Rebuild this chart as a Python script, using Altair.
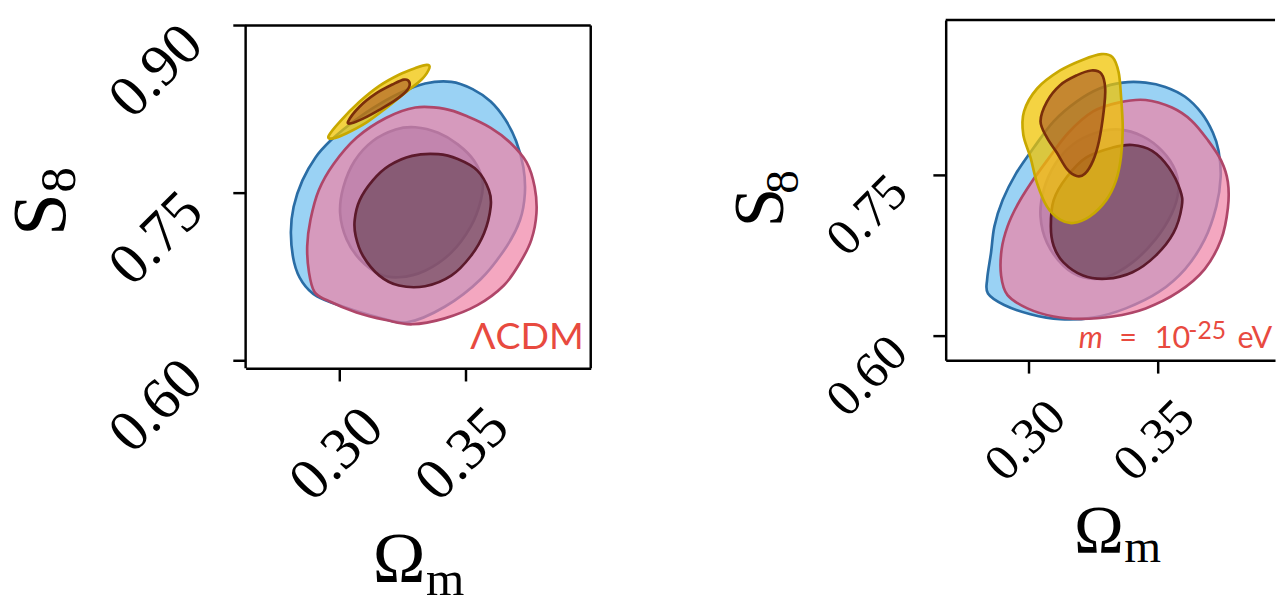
import altair as alt
import pandas as pd

# ---------------- axes ----------------
X_TICKS = [0.30, 0.35]
L_Y_TICKS = [0.60, 0.75, 0.90]
R_Y_TICKS = [0.60, 0.75]
L_XDOM = [0.2627, 0.40]
L_YDOM = [0.593, 0.9048]
R_XDOM = [0.2677, 0.3955]
R_YDOM = [0.5767, 0.894]

# ---------------- left panel: LCDM contours (Omega_m, S8) ----------------
L_BLUE95_OM = [0.2807, 0.2818, 0.2853, 0.2905, 0.2963, 0.3041, 0.3133, 0.3237, 0.3341, 0.3445, 0.3530, 0.3602, 0.3660,
               0.3703, 0.3732, 0.3738, 0.3719, 0.3666, 0.3563, 0.3419, 0.3270, 0.3146, 0.3016, 0.2911, 0.2853, 0.2820]
L_BLUE95_S8 = [0.7141, 0.7376, 0.7612, 0.7818, 0.7965, 0.8113, 0.8259, 0.8391, 0.8480, 0.8495, 0.8430, 0.8318, 0.8157,
               0.7965, 0.7729, 0.7495, 0.7259, 0.7023, 0.6729, 0.6480, 0.6341, 0.6391, 0.6480, 0.6573, 0.6700, 0.6877]
L_BLUE68_OM = [0.3003, 0.3016, 0.3061, 0.3133, 0.3224, 0.3302, 0.3393, 0.3471, 0.3536, 0.3569, 0.3563, 0.3523, 0.3445,
               0.3341, 0.3237, 0.3159, 0.3081, 0.3029]
L_BLUE68_S8 = [0.7318, 0.7553, 0.7788, 0.7965, 0.8068, 0.8088, 0.8038, 0.7935, 0.7788, 0.7612, 0.7435, 0.7200, 0.6965,
               0.6803, 0.6744, 0.6773, 0.6906, 0.7082]
L_PINK95_OM = [0.3185, 0.3302, 0.3419, 0.3510, 0.3602, 0.3680, 0.3745, 0.3777, 0.3784, 0.3764, 0.3719, 0.3654, 0.3549,
               0.3419, 0.3289, 0.3185, 0.3068, 0.2951, 0.2901, 0.2879, 0.2872, 0.2885, 0.2918, 0.2977, 0.3068]
L_PINK95_S8 = [0.8171, 0.8265, 0.8253, 0.8185, 0.8083, 0.7950, 0.7774, 0.7553, 0.7318, 0.7082, 0.6876, 0.6670, 0.6494,
               0.6376, 0.6323, 0.6361, 0.6429, 0.6538, 0.6612, 0.6788, 0.7023, 0.7259, 0.7524, 0.7759, 0.7994]
L_PINK68_OM = [0.3061, 0.3081, 0.3133, 0.3198, 0.3289, 0.3393, 0.3471, 0.3549, 0.3595, 0.3602, 0.3576, 0.3523, 0.3445,
               0.3341, 0.3237, 0.3159, 0.3094, 0.3065]
L_PINK68_S8 = [0.7259, 0.7435, 0.7612, 0.7744, 0.7832, 0.7847, 0.7803, 0.7700, 0.7524, 0.7376, 0.7141, 0.6935, 0.6759,
               0.6664, 0.6670, 0.6759, 0.6935, 0.7112]
L_YEL95_OM = [0.2957, 0.3003, 0.3081, 0.3159, 0.3237, 0.3302, 0.3348, 0.3358, 0.3328, 0.3263, 0.3185, 0.3107, 0.3029, 0.2974]
L_YEL95_S8 = [0.8009, 0.8141, 0.8318, 0.8459, 0.8559, 0.8618, 0.8647, 0.8618, 0.8518, 0.8400, 0.8259, 0.8130, 0.8035, 0.7988]
L_YEL68_OM = [0.3035, 0.3081, 0.3146, 0.3211, 0.3257, 0.3279, 0.3270, 0.3224, 0.3159, 0.3094, 0.3048]
L_YEL68_S8 = [0.8141, 0.8274, 0.8391, 0.8471, 0.8515, 0.8489, 0.8421, 0.8333, 0.8244, 0.8165, 0.8124]

# ---------------- right panel: m = 1e-25 eV ----------------
R_BLUE95_OM = [0.2853, 0.2866, 0.2898, 0.2949, 0.3019, 0.3096, 0.3185, 0.3274, 0.3364, 0.3453, 0.3529, 0.3606, 0.3670,
               0.3714, 0.3736, 0.3744, 0.3727, 0.3682, 0.3606, 0.3504, 0.3376, 0.3249, 0.3121, 0.3006, 0.2904, 0.2841, 0.2838]
R_BLUE95_S8 = [0.6772, 0.7016, 0.7261, 0.7506, 0.7751, 0.7996, 0.8180, 0.8302, 0.8357, 0.8357, 0.8317, 0.8225, 0.8072,
               0.7889, 0.7720, 0.7476, 0.7200, 0.6894, 0.6618, 0.6404, 0.6251, 0.6165, 0.6150, 0.6196, 0.6282, 0.6389, 0.6527]
R_BLUE68_OM = [0.3045, 0.3057, 0.3102, 0.3172, 0.3261, 0.3351, 0.3440, 0.3517, 0.3568, 0.3580, 0.3555, 0.3491, 0.3402,
               0.3300, 0.3210, 0.3134, 0.3070]
R_BLUE68_S8 = [0.7108, 0.7353, 0.7598, 0.7782, 0.7889, 0.7919, 0.7858, 0.7720, 0.7537, 0.7353, 0.7139, 0.6894, 0.6680,
               0.6542, 0.6542, 0.6649, 0.6863]
R_PINK95_OM = [0.3249, 0.3351, 0.3453, 0.3555, 0.3631, 0.3695, 0.3746, 0.3772, 0.3772, 0.3746, 0.3682, 0.3580, 0.3453,
               0.3325, 0.3198, 0.3096, 0.2994, 0.2917, 0.2892, 0.2894, 0.2917, 0.2955, 0.3006, 0.3070, 0.3153]
R_PINK95_S8 = [0.8088, 0.8173, 0.8195, 0.8124, 0.8002, 0.7818, 0.7629, 0.7430, 0.7185, 0.6894, 0.6618, 0.6404, 0.6251,
               0.6175, 0.6153, 0.6175, 0.6251, 0.6374, 0.6557, 0.6802, 0.7016, 0.7215, 0.7414, 0.7629, 0.7889]
R_PINK68_OM = [0.3085, 0.3096, 0.3147, 0.3223, 0.3325, 0.3402, 0.3478, 0.3542, 0.3587, 0.3593, 0.3561, 0.3491, 0.3402,
               0.3300, 0.3210, 0.3134, 0.3096]
R_PINK68_S8 = [0.7016, 0.7261, 0.7476, 0.7659, 0.7751, 0.7775, 0.7720, 0.7567, 0.7353, 0.7200, 0.6955, 0.6741, 0.6588,
               0.6527, 0.6557, 0.6680, 0.6833]
R_YEL95_OM = [0.2981, 0.3032, 0.3121, 0.3210, 0.3281, 0.3325, 0.3348, 0.3357, 0.3364, 0.3357, 0.3338, 0.3300, 0.3236,
              0.3172, 0.3121, 0.3070, 0.3032, 0.3006, 0.2978]
R_YEL95_S8 = [0.8088, 0.8302, 0.8470, 0.8571, 0.8623, 0.8593, 0.8455, 0.8241, 0.7935, 0.7659, 0.7445, 0.7261, 0.7108,
              0.7047, 0.7078, 0.7200, 0.7414, 0.7659, 0.7873]
R_YEL68_OM = [0.3045, 0.3070, 0.3121, 0.3185, 0.3242, 0.3281, 0.3296, 0.3290, 0.3272, 0.3249, 0.3217, 0.3185, 0.3147,
              0.3108, 0.3070]
R_YEL68_S8 = [0.7996, 0.8180, 0.8333, 0.8424, 0.8470, 0.8440, 0.8302, 0.8088, 0.7812, 0.7629, 0.7506, 0.7485, 0.7552,
              0.7705, 0.7843]

# ---------------- styles ----------------
SERIF = "Liberation Serif"
SANS = "Lato, Open Sans, DejaVu Sans"
RED = "#e84a3f"
STYLES = {
    "blue95": dict(fill="#78c3f0", fillOpacity=0.75, stroke="#2a6da5"),
    "blue68": dict(fill="#285aa0", fillOpacity=0.58, stroke="#2a5a90"),
    "pink95": dict(fill="#f082a5", fillOpacity=0.70, stroke="#af4669"),
    "pink68": dict(fill="#5f3c4b", fillOpacity=0.58, stroke="#5c1a2c"),
    "yel95": dict(fill="#f0c400", fillOpacity=0.74, stroke="#c8a800"),
    "yel68": dict(fill="#963c1e", fillOpacity=0.50, stroke="#7a2e0a"),
}
FRAME = dict(color="black", strokeWidth=2.5)

LW, LH = 350, 353      # left plot (frame top sits 5.4 px below the plot top)
L_TOP = 5.4
RW, RH = 334, 345      # right plot (cut by the page edge)


def axis(vals, size, pad, off, domain):
    return alt.Axis(values=vals, format=".2f", title=None, grid=False,
                    labelAngle=-45, labelAlign="center", labelBaseline="middle",
                    labelPadding=pad, labelOffset=off, labelFont=SERIF, labelFontSize=size,
                    labelColor="black", labelFlush=False, labelOverlap=False, labelBound=False,
                    tickSize=13, tickWidth=2.5, tickColor="black",
                    domain=domain, domainColor="black", domainWidth=2.5)


def contour(om, s8, style, xs, ys, xa, ya):
    df = pd.DataFrame({"om": om, "s8": s8, "i": list(range(len(om)))})
    st = STYLES[style]
    return alt.Chart(df).mark_line(
        filled=True, fill=st["fill"], fillOpacity=st["fillOpacity"],
        stroke=st["stroke"], strokeOpacity=1, strokeWidth=2.7,
        interpolate="cardinal-closed", strokeJoin="round",
    ).encode(
        x=alt.X("om:Q", scale=xs, axis=xa),
        y=alt.Y("s8:Q", scale=ys, axis=ya),
        order=alt.Order("i:Q"),
    )


ONE = pd.DataFrame({"k": [0]})


def label(text, x, y, size, font=SERIF, color="black", angle=0, align="left",
          baseline="alphabetic", style="normal", clip=False):
    return alt.Chart(ONE).mark_text(
        text=text, font=font, fontSize=size, color=color, angle=angle,
        align=align, baseline=baseline, fontStyle=style, clip=clip,
    ).encode(x=alt.value(x), y=alt.value(y))


def hrule(x1, x2, y):
    return alt.Chart(ONE).mark_rule(**FRAME).encode(x=alt.value(x1), x2=alt.value(x2), y=alt.value(y))


def vrule(x, y1, y2):
    return alt.Chart(ONE).mark_rule(**FRAME).encode(x=alt.value(x), y=alt.value(y1), y2=alt.value(y2))


# ---------------- left panel ----------------
lxs = alt.Scale(domain=L_XDOM, nice=False, zero=False)
lys = alt.Scale(domain=L_YDOM, nice=False, zero=False)
lxa = axis(X_TICKS, 60, 74, -3, True)
lya = axis(L_Y_TICKS, 60, 78, 46, False)

left_layers = [
    contour(L_BLUE95_OM, L_BLUE95_S8, "blue95", lxs, lys, lxa, lya),
    contour(L_BLUE68_OM, L_BLUE68_S8, "blue68", lxs, lys, lxa, lya),
    contour(L_PINK95_OM, L_PINK95_S8, "pink95", lxs, lys, lxa, lya),
    contour(L_PINK68_OM, L_PINK68_S8, "pink68", lxs, lys, lxa, lya),
    contour(L_YEL95_OM, L_YEL95_S8, "yel95", lxs, lys, lxa, lya),
    contour(L_YEL68_OM, L_YEL68_S8, "yel68", lxs, lys, lxa, lya),
    hrule(0, LW, L_TOP),
    vrule(0, L_TOP, LH),
    vrule(LW, L_TOP, LH),
    label("ΛCDM", 343, 334, 38, font=SANS, color=RED, align="right"),
    label("S", -183, 219, 78, angle=270),
    label("8", -173, 175, 52, angle=270),
    label("Ω", 129, 570, 72),
    label("m", 183, 583, 50),
]
left = alt.layer(*left_layers).properties(width=LW, height=LH, view=alt.ViewBackground(stroke="transparent"))

# ---------------- right panel ----------------
rxs = alt.Scale(domain=R_XDOM, nice=False, zero=False)
rys = alt.Scale(domain=R_YDOM, nice=False, zero=False)
rxa = axis(X_TICKS, 52, 68, -4, True)
rya = axis(R_Y_TICKS, 52, 67, 41, True)

right_layers = [
    contour(R_BLUE95_OM, R_BLUE95_S8, "blue95", rxs, rys, rxa, rya),
    contour(R_BLUE68_OM, R_BLUE68_S8, "blue68", rxs, rys, rxa, rya),
    contour(R_PINK95_OM, R_PINK95_S8, "pink95", rxs, rys, rxa, rya),
    contour(R_PINK68_OM, R_PINK68_S8, "pink68", rxs, rys, rxa, rya),
    contour(R_YEL95_OM, R_YEL95_S8, "yel95", rxs, rys, rxa, rya),
    contour(R_YEL68_OM, R_YEL68_S8, "yel68", rxs, rys, rxa, rya),
    hrule(0, RW, 0),
    label("m", 135, 333, 31, font=SANS, color=RED, style="italic", clip=True),
    label("=", 176, 333, 31, font=SANS, color=RED, clip=True),
    label("10", 212, 333, 31, font=SANS, color=RED, clip=True),
    label("-25", 246, 323, 25, font=SANS, color=RED, clip=True),
    label("eV", 296, 333, 31, font=SANS, color=RED, clip=True),
    label("S", -165, 210, 72, angle=270),
    label("8", -150, 176, 48, angle=270),
    label("Ω", 130, 539, 68),
    label("m", 181, 550, 48),
]
right = alt.layer(*right_layers).properties(width=RW, height=RH, view=alt.ViewBackground(stroke="transparent"))

chart = alt.hconcat(left, right, spacing=134, padding={"left": -5, "top": 0, "right": 0, "bottom": 0}).configure_view(
    stroke=None
).configure(background="white")

chart.save("out.html", embed_options={"renderer": "svg", "actions": False})
